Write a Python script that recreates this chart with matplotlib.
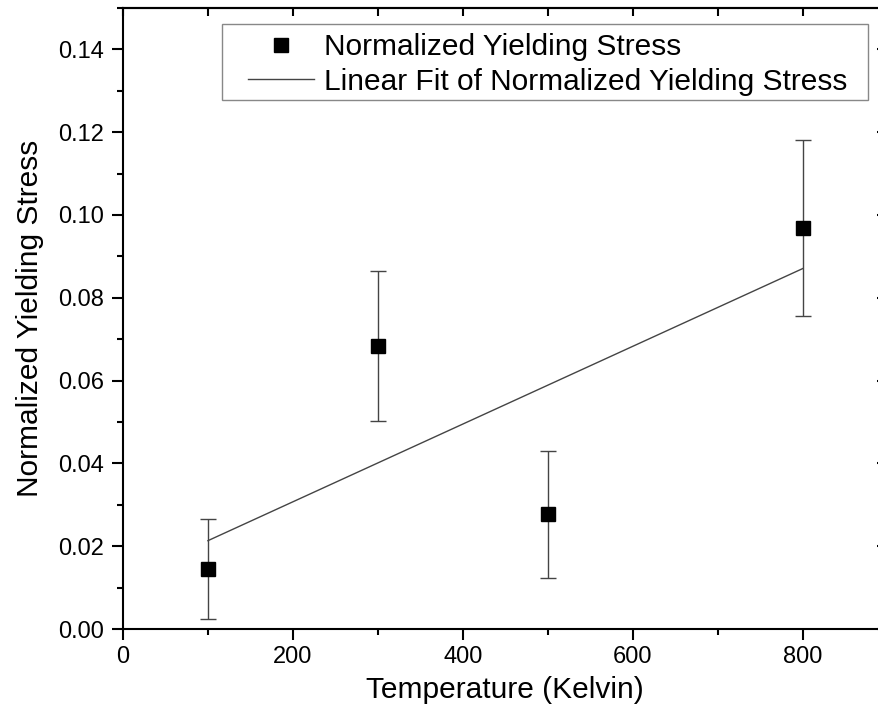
import numpy as np
import matplotlib
matplotlib.use("Agg")
import matplotlib.pyplot as plt
import matplotlib.patches as mpatches
from matplotlib.ticker import MultipleLocator

plt.rcParams["font.family"] = ["Liberation Sans", "DejaVu Sans"]

# 온도별 정규화 항복응력 측정값
temperature = [100, 300, 500, 800]
stress = [0.0145, 0.0684, 0.0277, 0.0968]
stress_err = [0.0121, 0.0181, 0.0154, 0.0212]

# 단순 선형 회귀 (가중치 없음)
slope, intercept = np.polyfit(temperature, stress, 1)
fit_x = np.array([temperature[0], temperature[-1]])
fit_y = slope * fit_x + intercept

fig = plt.figure(figsize=(8.79, 7.23), dpi=100)
fig.patch.set_facecolor("white")
# 오른쪽 축은 그림 밖으로 살짝 넘어가게 배치
ax = fig.add_axes([0.1399, 0.130, 0.870, 0.859])

ax.errorbar(temperature, stress, yerr=stress_err, fmt="none",
            ecolor="#444444", elinewidth=1.0, capsize=6, capthick=1.0, zorder=2)
ax.plot(temperature, stress, "s", color="black", markersize=9.5,
        label="Normalized Yielding Stress", zorder=3)
ax.plot(fit_x, fit_y, "-", color="#444444", linewidth=1.0,
        label="Linear Fit of Normalized Yielding Stress", zorder=2)

ax.set_xlim(0, 900)
ax.set_ylim(0, 0.15)

ax.xaxis.set_major_locator(MultipleLocator(200))
ax.xaxis.set_minor_locator(MultipleLocator(100))
ax.yaxis.set_major_locator(MultipleLocator(0.02))
ax.yaxis.set_minor_locator(MultipleLocator(0.01))
ax.yaxis.set_major_formatter(matplotlib.ticker.FormatStrFormatter("%.2f"))

for s in ax.spines.values():
    s.set_linewidth(1.5)

ax.tick_params(which="major", direction="out", length=8, width=1.5,
               labelsize=17, pad=4)
ax.tick_params(which="minor", direction="out", length=4.5, width=1.5)
ax.tick_params(axis="y", which="major", pad=5.5)

# 위/오른쪽 눈금 (안쪽)
top = ax.secondary_xaxis("top")
top.xaxis.set_major_locator(MultipleLocator(100))
top.tick_params(direction="in", length=6, width=1.5, labeltop=False)
top.spines["top"].set_linewidth(1.5)
right = ax.secondary_yaxis("right")
right.yaxis.set_major_locator(MultipleLocator(0.02))
right.tick_params(direction="in", length=8, width=1.5, labelright=False)
right.spines["right"].set_linewidth(1.5)

ax.set_xlabel("Temperature (Kelvin)", fontsize=21.5, labelpad=6)
ax.set_ylabel("Normalized Yielding Stress", fontsize=21.5, labelpad=10)

# 범례: 테두리는 따로 그림 (픽셀 위치 -> 축 좌표)
def ax_frac(px_x, px_y):
    inv = ax.transAxes.inverted()
    return inv.transform((px_x, 723 - px_y))

x0, y0 = ax_frac(222, 100)
x1, y1 = ax_frac(868, 24)
ax.add_patch(mpatches.Rectangle((x0, y0), x1 - x0, y1 - y0,
                                transform=ax.transAxes, facecolor="white",
                                edgecolor="#888888", linewidth=1.0, zorder=4))
lx, ly = ax_frac(248, 33)
leg = ax.legend(loc="upper left", bbox_to_anchor=(lx, ly), fontsize=21.5,
                frameon=False, borderpad=0, labelspacing=0.22, handlelength=2.2,
                handletextpad=0.35, borderaxespad=0)
leg.set_zorder(5)

fig.savefig("out.png", dpi=100, facecolor="white")
